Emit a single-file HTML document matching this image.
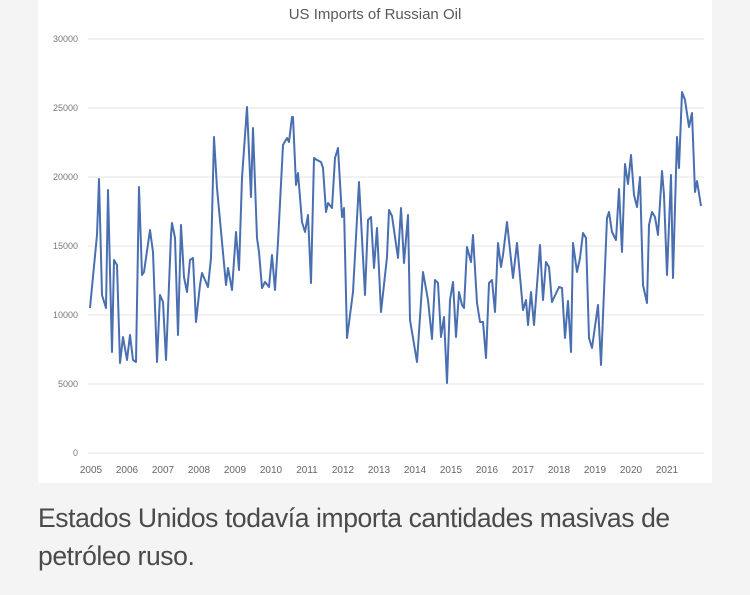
<!DOCTYPE html>
<html><head><meta charset="utf-8"><style>
html,body{margin:0;padding:0;background:#f4f4f4;width:750px;height:595px;overflow:hidden}
.card{position:absolute;left:38px;top:0;width:674px;height:483px;background:#fff}
.cap{position:absolute;left:38px;top:499px;width:712px;white-space:nowrap;font-family:"Liberation Sans",sans-serif;font-size:26.5px;line-height:38px;color:#4a4a4a;letter-spacing:-0.4px}
</style></head><body>
<div class="card"></div>
<svg width="750" height="595" style="position:absolute;left:0;top:0" font-family="Liberation Sans, sans-serif">
<text x="375" y="19" text-anchor="middle" font-size="15" fill="#595959">US Imports of Russian Oil</text>
<g stroke="#e6e6e6" stroke-width="1">
<line x1="88" x2="704" y1="39" y2="39"/><line x1="88" x2="704" y1="108" y2="108"/><line x1="88" x2="704" y1="177" y2="177"/><line x1="88" x2="704" y1="246" y2="246"/><line x1="88" x2="704" y1="315" y2="315"/><line x1="88" x2="704" y1="384" y2="384"/><line x1="88" x2="704" y1="453" y2="453"/>
</g>
<g font-size="9" fill="#777" text-anchor="end">
<text x="78" y="42">30000</text><text x="78" y="111">25000</text><text x="78" y="180">20000</text><text x="78" y="249">15000</text><text x="78" y="318">10000</text><text x="78" y="387">5000</text><text x="78" y="456">0</text>
</g>
<g font-size="10" fill="#666" text-anchor="middle">
<text x="91" y="473">2005</text><text x="127" y="473">2006</text><text x="163" y="473">2007</text><text x="199" y="473">2008</text><text x="235" y="473">2009</text><text x="271" y="473">2010</text><text x="307" y="473">2011</text><text x="343" y="473">2012</text><text x="379" y="473">2013</text><text x="415" y="473">2014</text><text x="451" y="473">2015</text><text x="487" y="473">2016</text><text x="523" y="473">2017</text><text x="559" y="473">2018</text><text x="595" y="473">2019</text><text x="631" y="473">2020</text><text x="667" y="473">2021</text>
</g>
<polyline fill="none" stroke="#4a6fb0" stroke-width="2" stroke-linejoin="round" points="90,308 97,235 99,179 102,295 106,308 108,190 112,352 114,260 117,265 120,363 123,337 127,360 130,335 133,360 136,362 139,187 142,275 144,272 150,230 153,252 157,362 160,295 163,302 166,360 171,235 172,223 175,238 178,335 181,225 184,277 187,292 190,260 193,258 196,322 200,285 202,273 208,287 211,258 214,137 217,188 222,242 226,285 228,268 232,290 236,232 239,270 242,178 247,107 251,197 253,128 257,238 259,252 262,288 265,282 269,287 272,255 275,290 278,242 283,145 287,138 289,142 292,117 293,117 296,185 298,173 302,222 305,232 308,215 311,283 314,158 317,160 321,162 323,168 326,212 328,203 332,208 335,158 338,148 342,217 344,208 347,338 353,292 359,182 365,295 368,220 371,217 374,268 377,228 381,312 387,257 389,210 392,216 398,258 401,208 404,263 408,215 410,320 417,362 423,272 428,300 432,339 435,280 438,283 441,337 444,317 447,383 450,300 453,282 456,337 459,292 462,305 464,308 467,247 471,262 473,235 477,303 480,322 483,322 486,358 489,283 492,280 495,312 498,243 501,267 503,255 507,222 513,278 517,243 523,310 526,300 528,325 531,292 534,325 540,245 543,300 546,262 549,267 552,302 559,287 562,288 565,338 568,301 571,352 573,243 577,272 580,258 583,233 586,238 589,338 592,348 598,305 601,365 607,218 609,212 612,232 616,240 619,189 622,252 625,164 628,184 631,155 634,195 637,207 640,177 643,285 647,303 649,225 652,212 655,217 658,235 662,171 664,195 667,275 671,175 673,278 677,137 679,168 682,92 685,100 689,127 692,113 695,192 697,181 701,206"/>
</svg>
<div class="cap">Estados Unidos todavía importa cantidades masivas de<br>petróleo ruso.</div>
</body></html>
